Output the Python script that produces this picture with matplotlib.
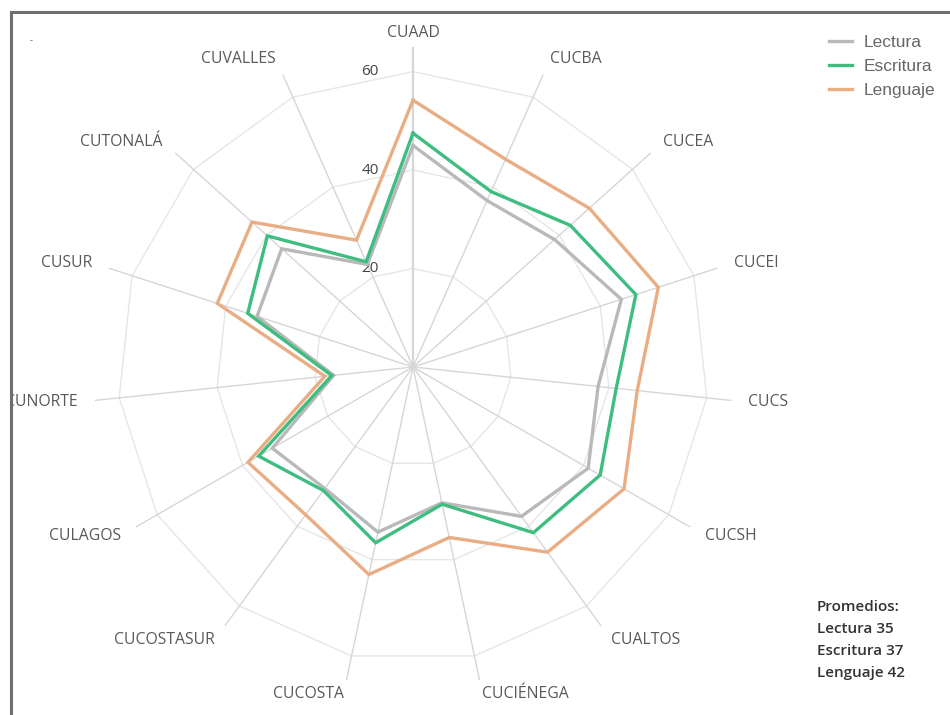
import numpy as np
import matplotlib
matplotlib.use("Agg")
import matplotlib.pyplot as plt
from matplotlib.lines import Line2D
from matplotlib.patches import Rectangle

# data
categories = ["CUAAD", "CUCBA", "CUCEA", "CUCEI", "CUCS", "CUCSH", "CUALTOS",
              "CUCIÉNEGA", "CUCOSTA", "CUCOSTASUR", "CULAGOS", "CUNORTE",
              "CUSUR", "CUTONALÁ", "CUVALLES"]
lectura = [45, 37, 38.7, 44.5, 37.8, 41.1, 37.5, 28.2, 34.3, 30.5, 33, 16.2, 33.3, 35.9, 22.8]
escritura = [47.5, 39, 43, 47.6, 41.5, 43.9, 41.6, 28.5, 36.5, 31, 36.2, 16.6, 35.3, 39.8, 23.4]
lenguaje = [54.2, 46.2, 48.2, 52.4, 45.8, 49.5, 46.5, 35.4, 43.1, 37.1, 38.7, 18, 41.8, 44, 28.2]
series_names = ["Lectura", "Escritura", "Lenguaje"]
ring_values = [20, 40, 60]
promedios = "Promedios:\nLectura 35\nEscritura 37\nLenguaje 42"

colors = ["#b9b9b9", "#3fbd80", "#e9ad84"]
W, H = 950, 715
RMAX = 65

fig = plt.figure(figsize=(W / 100, H / 100), dpi=100)
cx, cy, rad = 413, 367, 320
ax = fig.add_axes([(cx - rad) / W, (H - cy - rad) / H, 2 * rad / W, 2 * rad / H],
                  projection="polar")
ax.set_theta_zero_location("N")
ax.set_theta_direction(-1)
ax.set_ylim(0, RMAX)
ax.grid(False)
ax.spines["polar"].set_visible(False)
ax.set_xticks([])
ax.set_yticks([])

n = len(categories)
angles = np.arange(n) * 2 * np.pi / n
closed = np.append(angles, angles[0])

# polygon rings
for r in ring_values:
    ax.plot(closed, [r] * (n + 1), color="#e6e6e6", lw=1, zorder=1)
    ax.annotate(str(r), xy=(0, r), xytext=(-43, 0), textcoords="offset pixels",
                ha="center", va="center", fontsize=11, color="#444444",
                family="Open Sans")

# spokes
for i, a in enumerate(angles):
    ax.plot([a, a], [0, RMAX], color="#d6d6d6", lw=1.6 if i == 0 else 1, zorder=1)

# series
handles = []
for vals, name, col in zip([lectura, escritura, lenguaje], series_names, colors):
    v = np.append(vals, vals[0])
    line, = ax.plot(closed, v, color=col, lw=2.4, label=name, zorder=3,
                    solid_joinstyle="miter")
    handles.append(line)

# category labels
for a, lab in zip(angles, categories):
    s = np.sin(a)
    ha = "center" if abs(s) < 0.1 else ("left" if s > 0 else "right")
    rr = 337 if abs(np.cos(a)) < 0.95 else 334
    ax.text(a, rr / rad * RMAX, lab, ha=ha, va="center", fontsize=11.3,
            color="#595959", family="Open Sans")

fig.legend(handles, series_names, loc="upper left",
           bbox_to_anchor=(829 / W, 1 - 35 / H), frameon=False,
           borderpad=0, borderaxespad=0, handlelength=1.3, handletextpad=0.7,
           labelspacing=0.5, prop={"family": "Liberation Sans", "size": 12.5},
           labelcolor="#666666")

fig.text(817 / W, 1 - 600 / H, promedios, ha="left", va="top", fontsize=11,
         family="Open Sans", fontweight="semibold", color="#333333",
         linespacing=1.72)

fig.text(30 / W, 1 - 43 / H, "-", fontsize=6, color="#666666")

# frame of the screenshot (top and left edges)
fig.add_artist(Rectangle((0, 0), 11 / W, 1, transform=fig.transFigure,
                         facecolor="white", edgecolor="none", zorder=9))
fig.add_artist(Line2D([11 / W, 1], [1 - 12 / H, 1 - 12 / H],
                      transform=fig.transFigure, color="#6f6f6f", lw=2.2, zorder=10))
fig.add_artist(Line2D([11 / W, 11 / W], [0, 1 - 12 / H],
                      transform=fig.transFigure, color="#6f6f6f", lw=2.2, zorder=10))

fig.savefig("out.png", dpi=100)
